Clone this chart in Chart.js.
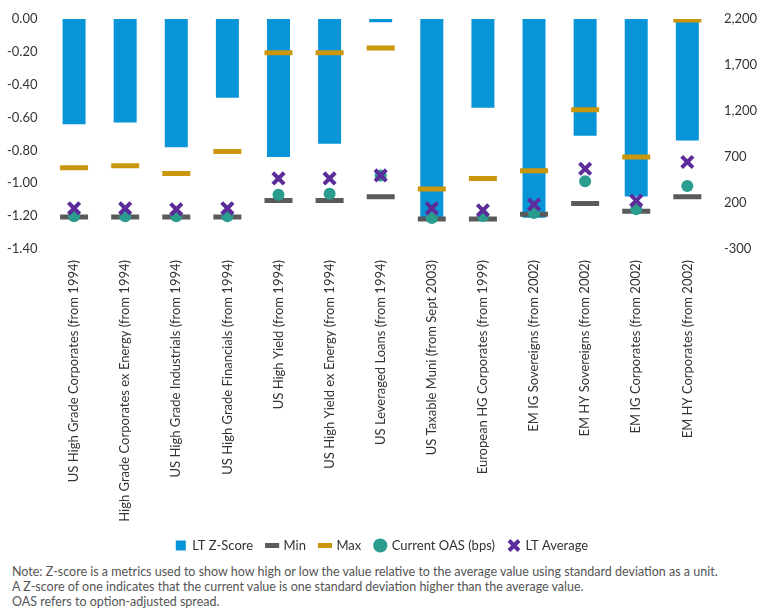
<!DOCTYPE html>
<html><head><meta charset="utf-8">
<script src="https://cdn.jsdelivr.net/npm/chart.js@4"></script>
<style>
body{margin:0;background:#fff;font-family:Lato,sans-serif}
#wrap{position:relative;width:770px;height:562px}
#note{font-size:12.5px;color:#555;line-height:15px;padding-left:12px;margin-top:2px}
</style></head><body>
<div id="wrap"><canvas id="c"></canvas></div>
<div id="note">Note: Z-score is a metrics used to show how high or low the value relative to the average value using standard deviation as a unit.<br>A Z-score of one indicates that the current value is one standard deviation higher than the average value.<br>OAS refers to option-adjusted spread.</div>
<script>
const categories = ['US High Grade Corporates (from 1994)', 'US High Grade Corporates ex Energy (from 1994)', 'US High Grade Industrials (from 1994)', 'US High Grade Financials (from 1994)', 'US High Yield (from 1994)', 'US High Yield ex Energy (from 1994)', 'US Leveraged Loans (from 1994)', 'US Taxable Muni (from Sept 2003)', 'European HG Corporates (from 1999)', 'EM IG Sovereigns (from 2002)', 'EM HY Sovereigns (from 2002)', 'EM IG Corporates (from 2002)', 'EM HY Corporates (from 2002)'];
const zScore = [-0.64, -0.63, -0.78, -0.48, -0.84, -0.76, -0.02, -1.23, -0.54, -1.21, -0.71, -1.08, -0.74];
const minOas = [48, 48, 48, 48, 226, 226, 268, 27, 27, 79, 195, 110, 268];
const maxOas = [583, 604, 520, 760, 1832, 1832, 1885, 352, 467, 551, 1213, 700, 2190];
const currentOas = [55, 55, 55, 55, 289, 300, 500, 37, 58, 90, 436, 131, 384];
const ltAverage = [142, 142, 131, 142, 467, 467, 500, 142, 121, 184, 572, 226, 646];

const txt = '#333';
const font = { family: 'Lato, sans-serif', size: 13 };
const dot = (label, data, style, color, extra) => Object.assign({
  type: 'line', label, data, yAxisID: 'y2', showLine: false,
  pointStyle: style, borderColor: color, backgroundColor: color
}, extra);

new Chart(document.getElementById('c'), {
  type: 'bar',
  data: {
    labels: categories,
    datasets: [
      { label: 'LT Z-Score', data: zScore, yAxisID: 'y', backgroundColor: '#0895d8', barPercentage: 0.45, categoryPercentage: 1, order: 5, pointStyle: 'rect' },
      dot('Min', minOas, 'line', '#5a5a5a', { pointRadius: 14, borderWidth: 5, order: 4 }),
      dot('Max', maxOas, 'line', '#c9960c', { pointRadius: 14, borderWidth: 5, order: 3 }),
      dot('Current OAS (bps)', currentOas, 'circle', '#2a9d8f', { pointRadius: 6, borderWidth: 0, order: 2 }),
      dot('LT Average', ltAverage, 'crossRot', '#5b2c9a', { pointRadius: 8, borderWidth: 4, order: 1 })
    ]
  },
  options: {
    responsive: true, maintainAspectRatio: false, animation: false,
    layout: { padding: { left: 4, right: 10, top: 10 } },
    plugins: {
      legend: { position: 'bottom', labels: { color: txt, font, usePointStyle: true, boxWidth: 10, boxHeight: 10, padding: 14,
        sort: (a, b) => a.datasetIndex - b.datasetIndex } },
      tooltip: { enabled: false }
    },
    scales: {
      x: { grid: { display: false }, border: { display: false },
        ticks: { color: txt, font, minRotation: 90, maxRotation: 90, autoSkip: false } },
      y: { min: -1.4, max: 0, grid: { display: false }, border: { display: false },
        ticks: { stepSize: 0.2, color: txt, font, callback: v => v.toFixed(2) } },
      y2: { position: 'right', min: -300, max: 2200, grid: { display: false }, border: { display: false },
        ticks: { stepSize: 500, color: txt, font } }
    }
  }
});
</script>
</body></html>
